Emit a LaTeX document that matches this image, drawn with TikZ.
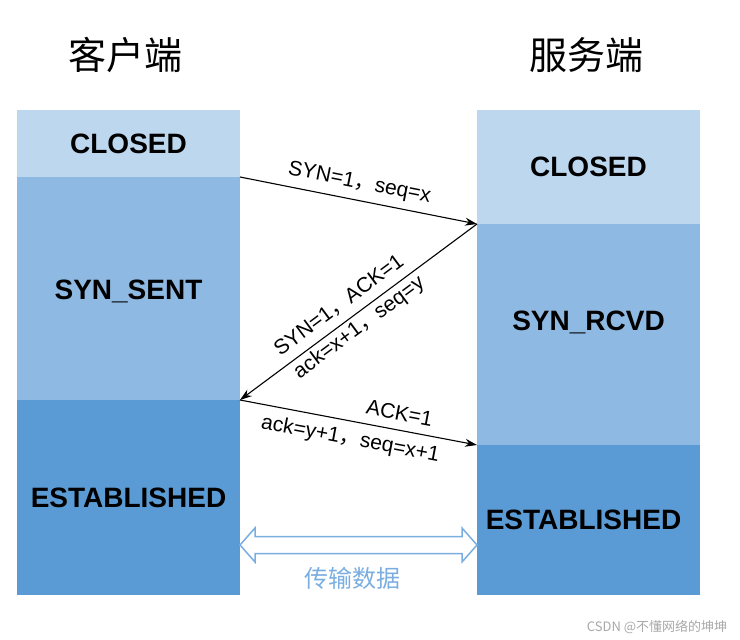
\documentclass[tikz,border=0pt]{standalone}
\usepackage{fontspec}
\setmainfont{Liberation Sans}
\newfontfamily\cjk{Noto Sans CJK SC}
\usetikzlibrary{arrows.meta}
\definecolor{cLight}{HTML}{BDD7EE}
\definecolor{cMid}{HTML}{8EB9E2}
\definecolor{cDark}{HTML}{5B9BD5}
\definecolor{cArrow}{HTML}{7AAEE0}
\definecolor{cMark}{HTML}{A8A8A8}
\tikzset{
  statebox/.style={anchor=north west, inner sep=0pt, outer sep=0pt, minimum width=223pt},
  statetext/.style={font=\fontsize{28}{30}\selectfont\bfseries, inner sep=0pt},
  title/.style={font=\cjk\fontsize{38}{42}\selectfont, inner sep=0pt},
  msg/.style={draw=black, line width=1.1pt, -{Stealth[length=12pt,width=8pt]}},
  msglabel/.style={font=\fontsize{21}{23}\selectfont, sloped, inner sep=0pt},
}
\begin{document}
\begin{tikzpicture}[x=1pt,y=-1pt]
\useasboundingbox (0,0) rectangle (740,640);
% titles
\node[title] (tl) at (125,55) {客户端};
\node[title] (tr) at (586,55) {服务端};
% client column
\node[statebox, fill=cLight, minimum height=67pt] (lc) at (17,110) {};
\node[statebox, fill=cMid, minimum height=223pt] (ls) at (17,177) {};
\node[statebox, fill=cDark, minimum height=195pt] (le) at (17,400) {};
% server column
\node[statebox, fill=cLight, minimum height=114pt] (rc) at (477,110) {};
\node[statebox, fill=cMid, minimum height=221pt] (rs) at (477,224) {};
\node[statebox, fill=cDark, minimum height=150pt] (re) at (477,445) {};
% state texts
\node[statetext] (tlc) at (lc.center) {CLOSED};
\node[statetext] (tls) at ([yshift=-3pt]ls.center) {SYN\_SENT};
\node[statetext] (tle) at (le.center) {ESTABLISHED};
\node[statetext] (trc) at (rc.center) {CLOSED};
\node[statetext] (trs) at ([yshift=12pt]rs.center) {SYN\_RCVD};
\node[statetext] (tre) at ([xshift=-5pt]re.center) {ESTABLISHED};
% messages
\draw[msg] (lc.south east) -- (rc.south west)
  node[msglabel, pos=0.49, above=7pt] {SYN=1{\cjk ，}seq=x};
\draw[msg, {Stealth[length=12pt,width=8pt]}-] (le.north east) -- (rs.north west)
  node[msglabel, pos=0.46, above=8pt] {SYN=1{\cjk ，}ACK=1}
  node[msglabel, pos=0.47, below=3pt] {ack=x+1{\cjk ，}seq=y};
\draw[msg] (le.north east) -- (re.north west)
  node[msglabel, pos=0.66, above=9pt] {ACK=1}
  node[msglabel, pos=0.48, below=8pt] {ack=y+1{\cjk ，}seq=x+1};
% data transfer double arrow
\coordinate (dl) at (240,545);
\coordinate (dr) at (477,545);
\draw[cArrow, line width=1.5pt, line join=miter]
  (dl) -- ++(15,-17) -- ++(0,8.5) -- ++(207,0) -- ++(0,-8.5) -- (dr)
  -- ++(-15,17) -- ++(0,-8.5) -- ++(-207,0) -- ++(0,8.5) -- cycle;
\node[font=\cjk\fontsize{24}{26}\selectfont, text=cArrow, inner sep=0pt] (data) at (352,578) {传输数据};
% watermark
\node[font=\cjk\fontsize{13}{14}\selectfont, text=cMark, inner sep=0pt] (wm) at (657,627) {CSDN @不懂网络的坤坤};
\end{tikzpicture}
\end{document}
